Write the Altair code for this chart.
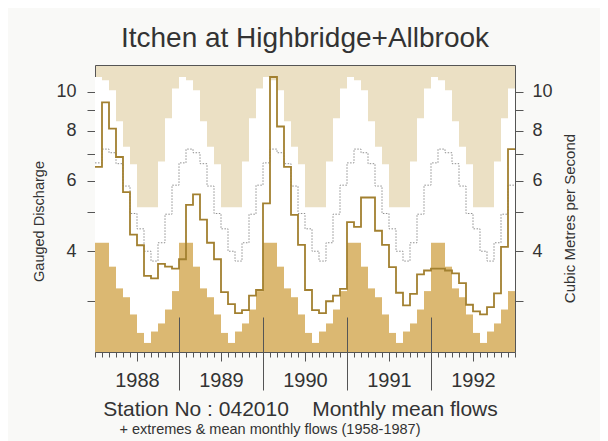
import altair as alt
import pandas as pd

# ---------------- data ----------------
months = ["Jan", "Feb", "Mar", "Apr", "May", "Jun", "Jul", "Aug", "Sep", "Oct", "Nov", "Dec"]
years = [1988, 1989, 1990, 1991, 1992]

# record extremes and mean monthly flows 1958-1987 (m3/s)
max_flow = [10.9, 10.7, 10.1, 8.45, 7.3, 6.6, 5.15, 5.15, 5.15, 6.7, 8.6, 10.2]
min_flow = [4.2, 4.2, 3.66, 3.23, 3.07, 2.78, 2.5, 2.36, 2.52, 2.64, 2.86, 3.18]
mean_flow = [6.65, 7.2, 7.05, 6.62, 5.82, 4.97, 4.55, 4.0, 3.78, 4.2, 4.95, 5.85]

# monthly mean flows 1988-1992 (m3/s)
flow_1988 = [6.5, 9.42, 8.1, 6.88, 5.62, 4.4, 4.14, 3.47, 3.42, 3.72, 3.66, 3.62]
flow_1989 = [3.82, 5.22, 5.55, 4.8, 4.2, 3.82, 3.16, 2.95, 2.8, 2.85, 3.1, 3.2]
flow_1990 = [5.27, 10.9, 8.2, 6.5, 4.93, 4.15, 3.2, 2.85, 2.8, 3.0, 3.1, 3.22]
flow_1991 = [4.73, 4.6, 5.45, 5.45, 4.5, 4.15, 3.65, 3.15, 2.93, 3.13, 3.5, 3.58]
flow_1992 = [3.62, 3.62, 3.58, 3.52, 3.33, 2.94, 2.83, 2.78, 2.9, 3.14, 4.1, 7.2]

y_domain = [2.24, 11.68]
y_ticks = [3, 4, 5, 6, 7, 8, 9, 10]
month_ticks = list(range(61))
mid_year_ticks = [6, 18, 30, 42, 54]
year_bounds = [12, 24, 36, 48]

title_text = "Itchen at Highbridge+Allbrook"
left_title = "Gauged Discharge"
right_title = "Cubic Metres per Second"
footer_line1 = "Station No : 042010\u00a0\u00a0\u00a0\u00a0Monthly mean flows"
footer_line2 = "+ extremes & mean monthly flows (1958-1987)"

# ---------------- tables ----------------
actual = flow_1988 + flow_1989 + flow_1990 + flow_1991 + flow_1992
n = len(actual)
rect_rows = []
for i in range(n):
    m = i % 12
    rect_rows.append({"t": i, "t_end": i + 1, "max": max_flow[m], "min": min_flow[m],
                      "floor": y_domain[0]})
rect_df = pd.DataFrame(rect_rows)

line_rows = []
for i in range(n + 1):
    j = min(i, n - 1)
    line_rows.append({"t": i, "mean": mean_flow[j % 12], "flow": actual[j]})
line_df = pd.DataFrame(line_rows)

FONT = "Liberation Sans"
TXT = "#333333"

xscale = alt.Scale(domain=[0, n], nice=False, zero=False)
yscale = alt.Scale(type="log", domain=y_domain, nice=False)

y_left = alt.Y(
    "max:Q", scale=yscale,
    axis=alt.Axis(
        orient="left", values=y_ticks, domain=False, grid=False, tickSize=8,
        labelExpr="datum.value % 2 == 0 ? datum.label : ''",
        labelFontSize=18, labelPadding=11,
        title=left_title, titleFontSize=14.5, titleFontWeight="normal",
        titleAngle=270, titleX=-56, titleY=156, titleAlign="center", titleBaseline="middle",
    ),
)

base_rect = alt.Chart(rect_df)
white_bars = base_rect.mark_rect(color="#ffffff", clip=True).encode(
    x=alt.X("t:Q", scale=xscale, axis=None), x2="t_end:Q", y=y_left, y2="floor:Q")
gold_bars = base_rect.mark_rect(color="#dbb872", clip=True).encode(
    x=alt.X("t:Q", scale=xscale, axis=None), x2="t_end:Q",
    y=alt.Y("min:Q", scale=yscale), y2="floor:Q")

base_line = alt.Chart(line_df)
mean_line = base_line.mark_line(interpolate="step-after", color="#8f8f8f",
                                strokeWidth=1, strokeDash=[1.5, 1.5], clip=True).encode(
    x=alt.X("t:Q", scale=xscale, axis=None), y=alt.Y("mean:Q", scale=yscale))
flow_line = base_line.mark_line(interpolate="step-after", color="#a28030",
                                strokeWidth=1.8, clip=True).encode(
    x=alt.X("t:Q", scale=xscale, axis=None), y=alt.Y("flow:Q", scale=yscale))

data_layer = alt.layer(white_bars, gold_bars, mean_line, flow_line)


def axis_layer(x_axis, y_axis):
    return base_line.mark_point(opacity=0).encode(
        x=alt.X("t:Q", scale=xscale, axis=x_axis),
        y=alt.Y("mean:Q", scale=yscale, axis=y_axis),
    )


right_axis = axis_layer(None, alt.Axis(
    orient="right", values=y_ticks, domain=False, grid=False, tickSize=8,
    labelExpr="datum.value % 2 == 0 ? datum.label : ''",
    labelFontSize=18, labelPadding=9,
    title=right_title, titleFontSize=15, titleFontWeight="normal",
    titleAngle=270, titleX=54, titleY=153, titleAlign="center", titleBaseline="middle",
))

month_axis = axis_layer(alt.Axis(
    orient="bottom", values=month_ticks, domain=False, grid=False, tickSize=5,
    labels=False,
    title=footer_line1, titleFontSize=21, titleFontWeight="normal",
    titleX=205, titleY=63, titleAlign="center", titleBaseline="alphabetic",
), None)

year_axis = axis_layer(alt.Axis(
    orient="bottom", values=mid_year_ticks, domain=False, grid=False, tickSize=9,
    labelExpr="toString(1988 + floor(datum.value / 12))",
    labelOverlap=False, labelFlush=False, labelFontSize=20,
    labelBaseline="alphabetic", labelPadding=25, title=None,
), None)

sep_axis = axis_layer(alt.Axis(
    orient="bottom", values=year_bounds, domain=False, grid=False,
    tickSize=73, offset=-35, labels=False, tickColor="#555555", tickWidth=1, zindex=1,
    title=footer_line2, titleFontSize=14.5, titleFontWeight="normal",
    titleX=24, titleY=116, titleAlign="left", titleBaseline="alphabetic",
), None)

chart = alt.layer(data_layer, right_axis, month_axis, year_axis, sep_axis).resolve_scale(
    x="independent", y="independent"
).properties(
    width=420, height=287,
    title=alt.TitleParams(text=title_text, fontSize=28, font=FONT, fontWeight="normal",
                          color=TXT, anchor="middle", offset=12),
    autosize=alt.AutoSizeParams(type="none"),
    padding={"left": 87, "top": 57, "right": 85, "bottom": 89},
    background="#f9f9f7",
).configure_view(
    fill="#ebe0c4", stroke="#555555", strokeWidth=1
).configure_axis(
    labelFont=FONT, titleFont=FONT, labelColor=TXT, titleColor=TXT,
    tickColor="#555555",
)

chart.save("out.html", embed_options={"renderer": "svg", "actions": False})
